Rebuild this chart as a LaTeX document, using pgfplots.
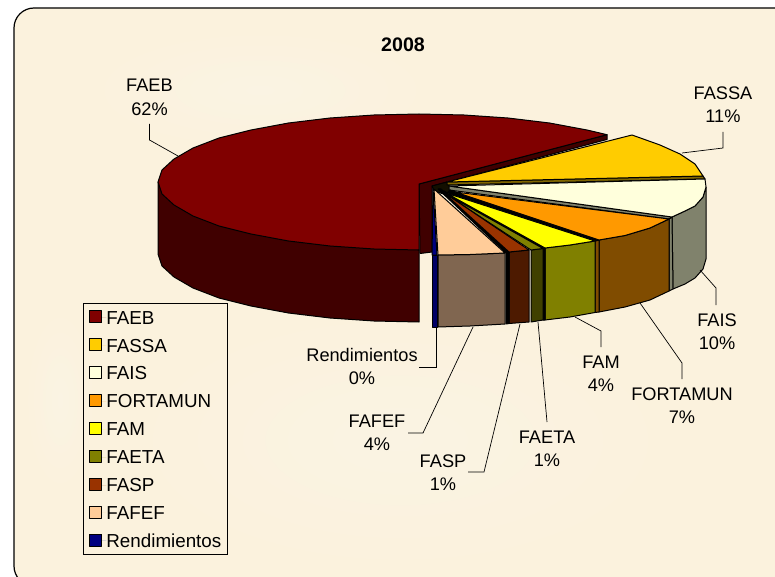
\documentclass[border=0pt]{standalone}
\usepackage{fontspec}
\setmainfont{Liberation Sans}
\usepackage{pgfplots}
\pgfplotsset{compat=1.18}

\definecolor{bgcream}{HTML}{FBF2DD}
\definecolor{paleA}{HTML}{FAF3E3}
\definecolor{cFAEB}{HTML}{800000}
\definecolor{cFASSA}{HTML}{FFCC00}
\definecolor{cFAIS}{HTML}{FFFFDC}
\definecolor{cFORT}{HTML}{FF9900}
\definecolor{cFAM}{HTML}{FFFF00}
\definecolor{cFAETA}{HTML}{808000}
\definecolor{cFASP}{HTML}{993300}
\definecolor{cFAFEF}{HTML}{FFCC99}
\definecolor{cREND}{HTML}{000080}
\definecolor{sFAEB}{HTML}{400000}
\definecolor{sFASSA}{HTML}{806600}
\definecolor{sFAIS}{HTML}{80826C}
\definecolor{sFORT}{HTML}{804C00}
\definecolor{sFAM}{HTML}{808000}
\definecolor{sFAETA}{HTML}{404000}
\definecolor{sFASP}{HTML}{4D1A00}
\definecolor{sFAFEF}{HTML}{806650}
\definecolor{sREND}{HTML}{000066}

\pgfplotsset{
  top/.style={fill=#1,draw=black,line width=1pt,line join=round,mark=none},
  face/.style={top=#1,forget plot},
  leader/.style={draw=black,line width=0.7pt,mark=none,forget plot},
}
\newcommand{\lab}[5]{%
  \node[anchor=base,inner sep=0pt] at (axis cs:#1,#2) {#3};
  \node[anchor=base,inner sep=0pt] at (axis cs:#1,#4) {#5\%};
}
\newcommand{\patch}[5]{%
  \shade[inner color=#5,outer color=bgcream] (axis cs:#1,#2) ellipse [x radius=#3pt,y radius=#4pt];
}

\begin{document}
\begin{tikzpicture}[font=\fontsize{18.2}{22}\selectfont]
\begin{axis}[
  scale only axis,
  width=775pt, height=577pt,
  xmin=0, xmax=775, ymin=0, ymax=577,
  y dir=reverse,
  hide axis,
  legend style={
    at={(axis cs:83,303)}, anchor=north west,
    draw=black, line width=0.8pt, fill=none,
    inner xsep=6pt, inner ysep=7pt, row sep=14.2pt,
    font=\fontsize{18.8}{22}\selectfont,
    nodes={inner sep=0pt, text height=13pt, text depth=0pt},
  },
  legend cell align=left,
  legend image code/.code={%
    \path[draw=none] (0pt,0pt) -- (16.5pt,0pt);
    \draw[#1,line width=1pt] (0pt,-5.3pt) rectangle (12pt,6.7pt);},
]
% background
\fill[white] (axis cs:0,0) rectangle (axis cs:775,577);
\fill[bgcream,rounded corners=20pt] (axis cs:14,8) rectangle (axis cs:810,586);
\patch{400}{440}{270}{130}{paleA}
\patch{260}{90}{170}{60}{paleA}
\patch{60}{400}{35}{90}{paleA}
\draw[black,line width=1.2pt,rounded corners=20pt] (axis cs:14,8) rectangle (axis cs:810,586);

% FAEB: side, cut wall, top
\addplot[face=sFAEB] coordinates {(158,182) (158,254) (162,266) (174,277) (193,288) (219,298) (251,306) (288.5,313) (330,318) (374,321) (419,322) (419,250) (158,182)};
\addplot[face=sFAEB] coordinates {(419,184) (607,134.7) (607,139.5) (432,186) (432,252) (420,253.5) (419,184)};
\addplot[top=cFAEB] coordinates {(419,184) (607,134.7) (587,130) (549.5,123) (508,118) (464,115) (419,114) (374,115) (330,118) (288.5,123) (251,130) (219,138) (193,148) (174,159) (162,170) (158,182) (162,194) (174,205) (193,216) (219,226) (251,234) (288.5,241) (330,246) (374,249) (419,250) (419,184)};
\addlegendentry{FAEB}

% hub where the cut walls meet
\addplot[face=black!85!sFASSA] coordinates {(432,186) (447,182) (452,190) (447,195) (434,191) (432,186)};

% FASSA
\addplot[face=sFASSA] coordinates {(703,176) (705,179) (447,185) (447,182) (703,176)};
\addplot[top=cFASSA] coordinates {(447,182) (632,135) (660,145) (680,154) (695,164) (703,176) (447,182)};
\addlegendentry{FASSA}

% FAIS
\addplot[face=sFAIS] coordinates {(706,187) (706,259) (703,269) (695,278) (685,284) (673,289) (672,217) (685,211) (695,206) (703,197) (706,187)};
\addplot[face=sFAIS] coordinates {(672,217) (673,289) (669,291) (669,219) (672,217)};
\addplot[face=sFAIS] coordinates {(672,217) (669,219) (449,190) (449,186) (672,217)};
\addplot[top=cFAIS] coordinates {(449,186) (705,179) (706,187) (703,197) (695,206) (685,211) (672,217) (449,186)};
\addlegendentry{FAIS}

% FORTAMUN
\addplot[face=sFORT] coordinates {(669,219) (669,291) (650,300) (625,307) (599,312) (599,240) (625,235.5) (650,228) (669,219)};
\addplot[face=sFORT] coordinates {(599,240) (599,312) (595,312.5) (595,241) (599,240)};
\addplot[face=black] coordinates {(599,240) (595,241) (447,193) (450,190) (599,240)};
\addplot[top=cFORT] coordinates {(455,192) (669,219) (650,228) (625,235.5) (599,240) (455,192)};
\addlegendentry{FORTAMUN}

% FAM
\addplot[face=sFAM] coordinates {(595,241) (595,312.5) (570,317) (545,320) (545,248) (570,245) (595,241)};
\addplot[face=black] coordinates {(545,248) (545,320) (543,320) (543,248.5) (545,248)};
\addplot[face=black] coordinates {(545,248) (543,248.5) (442,192) (444,191) (545,248)};
\addplot[top=cFAM] coordinates {(446,193) (595,241) (570,245) (545,248) (446,193)};
\addlegendentry{FAM}

% FAETA
\addplot[face=sFAETA] coordinates {(543,248.5) (543,320) (531,322) (531,250) (543,248.5)};
\addplot[top=cFAETA] coordinates {(444,193) (543,248.5) (531,250) (444,193)};
\addlegendentry{FAETA}

% FASP
\addplot[face=sFASP] coordinates {(529,250) (529,322) (509,323.5) (509,252) (529,250)};
\addplot[face=black] coordinates {(509,252) (509,323.5) (506,324) (506,253) (509,252)};
\addplot[face=black] coordinates {(509,252) (506,253) (438,189) (441,189) (509,252)};
\addplot[top=cFASP] coordinates {(443,192) (529,250) (509,252) (443,192)};
\addlegendentry{FASP}

% FAFEF
\addplot[face=sFAFEF] coordinates {(505,253) (505,324) (470,326) (438,327) (438,255) (470,254.5) (505,253)};
\addplot[top=cFAFEF] coordinates {(434,189) (505,253) (470,254.5) (438,255) (434,189)};
\addlegendentry{FAFEF}

% Rendimientos
\addplot[face=sREND] coordinates {(432,255) (437,255) (437,327) (432,327) (432,255)};
\addplot[top=cREND] coordinates {(433,188) (437,255) (432,255) (433,188)};
\addlegendentry{Rendimientos\hspace{3pt}}

% leaders
\addplot[leader] coordinates {(149.5,124) (149.5,140) (178,156)};
\addplot[leader] coordinates {(723,132) (723,148) (682,153)};
\addplot[leader] coordinates {(700,270) (716,288) (716,305)};
\addplot[leader] coordinates {(640,303) (682,363) (682,379)};
\addplot[leader] coordinates {(575,317) (601,331) (601,347)};
\addplot[leader] coordinates {(538,322) (547,422)};
\addplot[leader] coordinates {(520,324) (484,472) (468,472)};
\addplot[leader] coordinates {(473,327) (423,433) (408,433)};
\addplot[leader] coordinates {(436,327) (436,367) (419,367)};

% labels
\node[anchor=base,inner sep=0pt,font=\fontsize{19.6}{23}\selectfont\bfseries] at (axis cs:403,52) {2008};
\lab{149.5}{92}{FAEB}{116}{62}
\lab{723}{100}{FASSA}{123}{11}
\lab{717}{326}{FAIS}{349}{10}
\lab{682}{400}{FORTAMUN}{423}{7}
\lab{601}{368}{FAM}{391}{4}
\lab{547}{443}{FAETA}{466}{1}
\lab{443}{467}{FASP}{490}{1}
\lab{377}{427}{FAFEF}{450}{4}
\lab{362}{361}{Rendimientos}{384}{0}
\end{axis}
\end{tikzpicture}
\end{document}
